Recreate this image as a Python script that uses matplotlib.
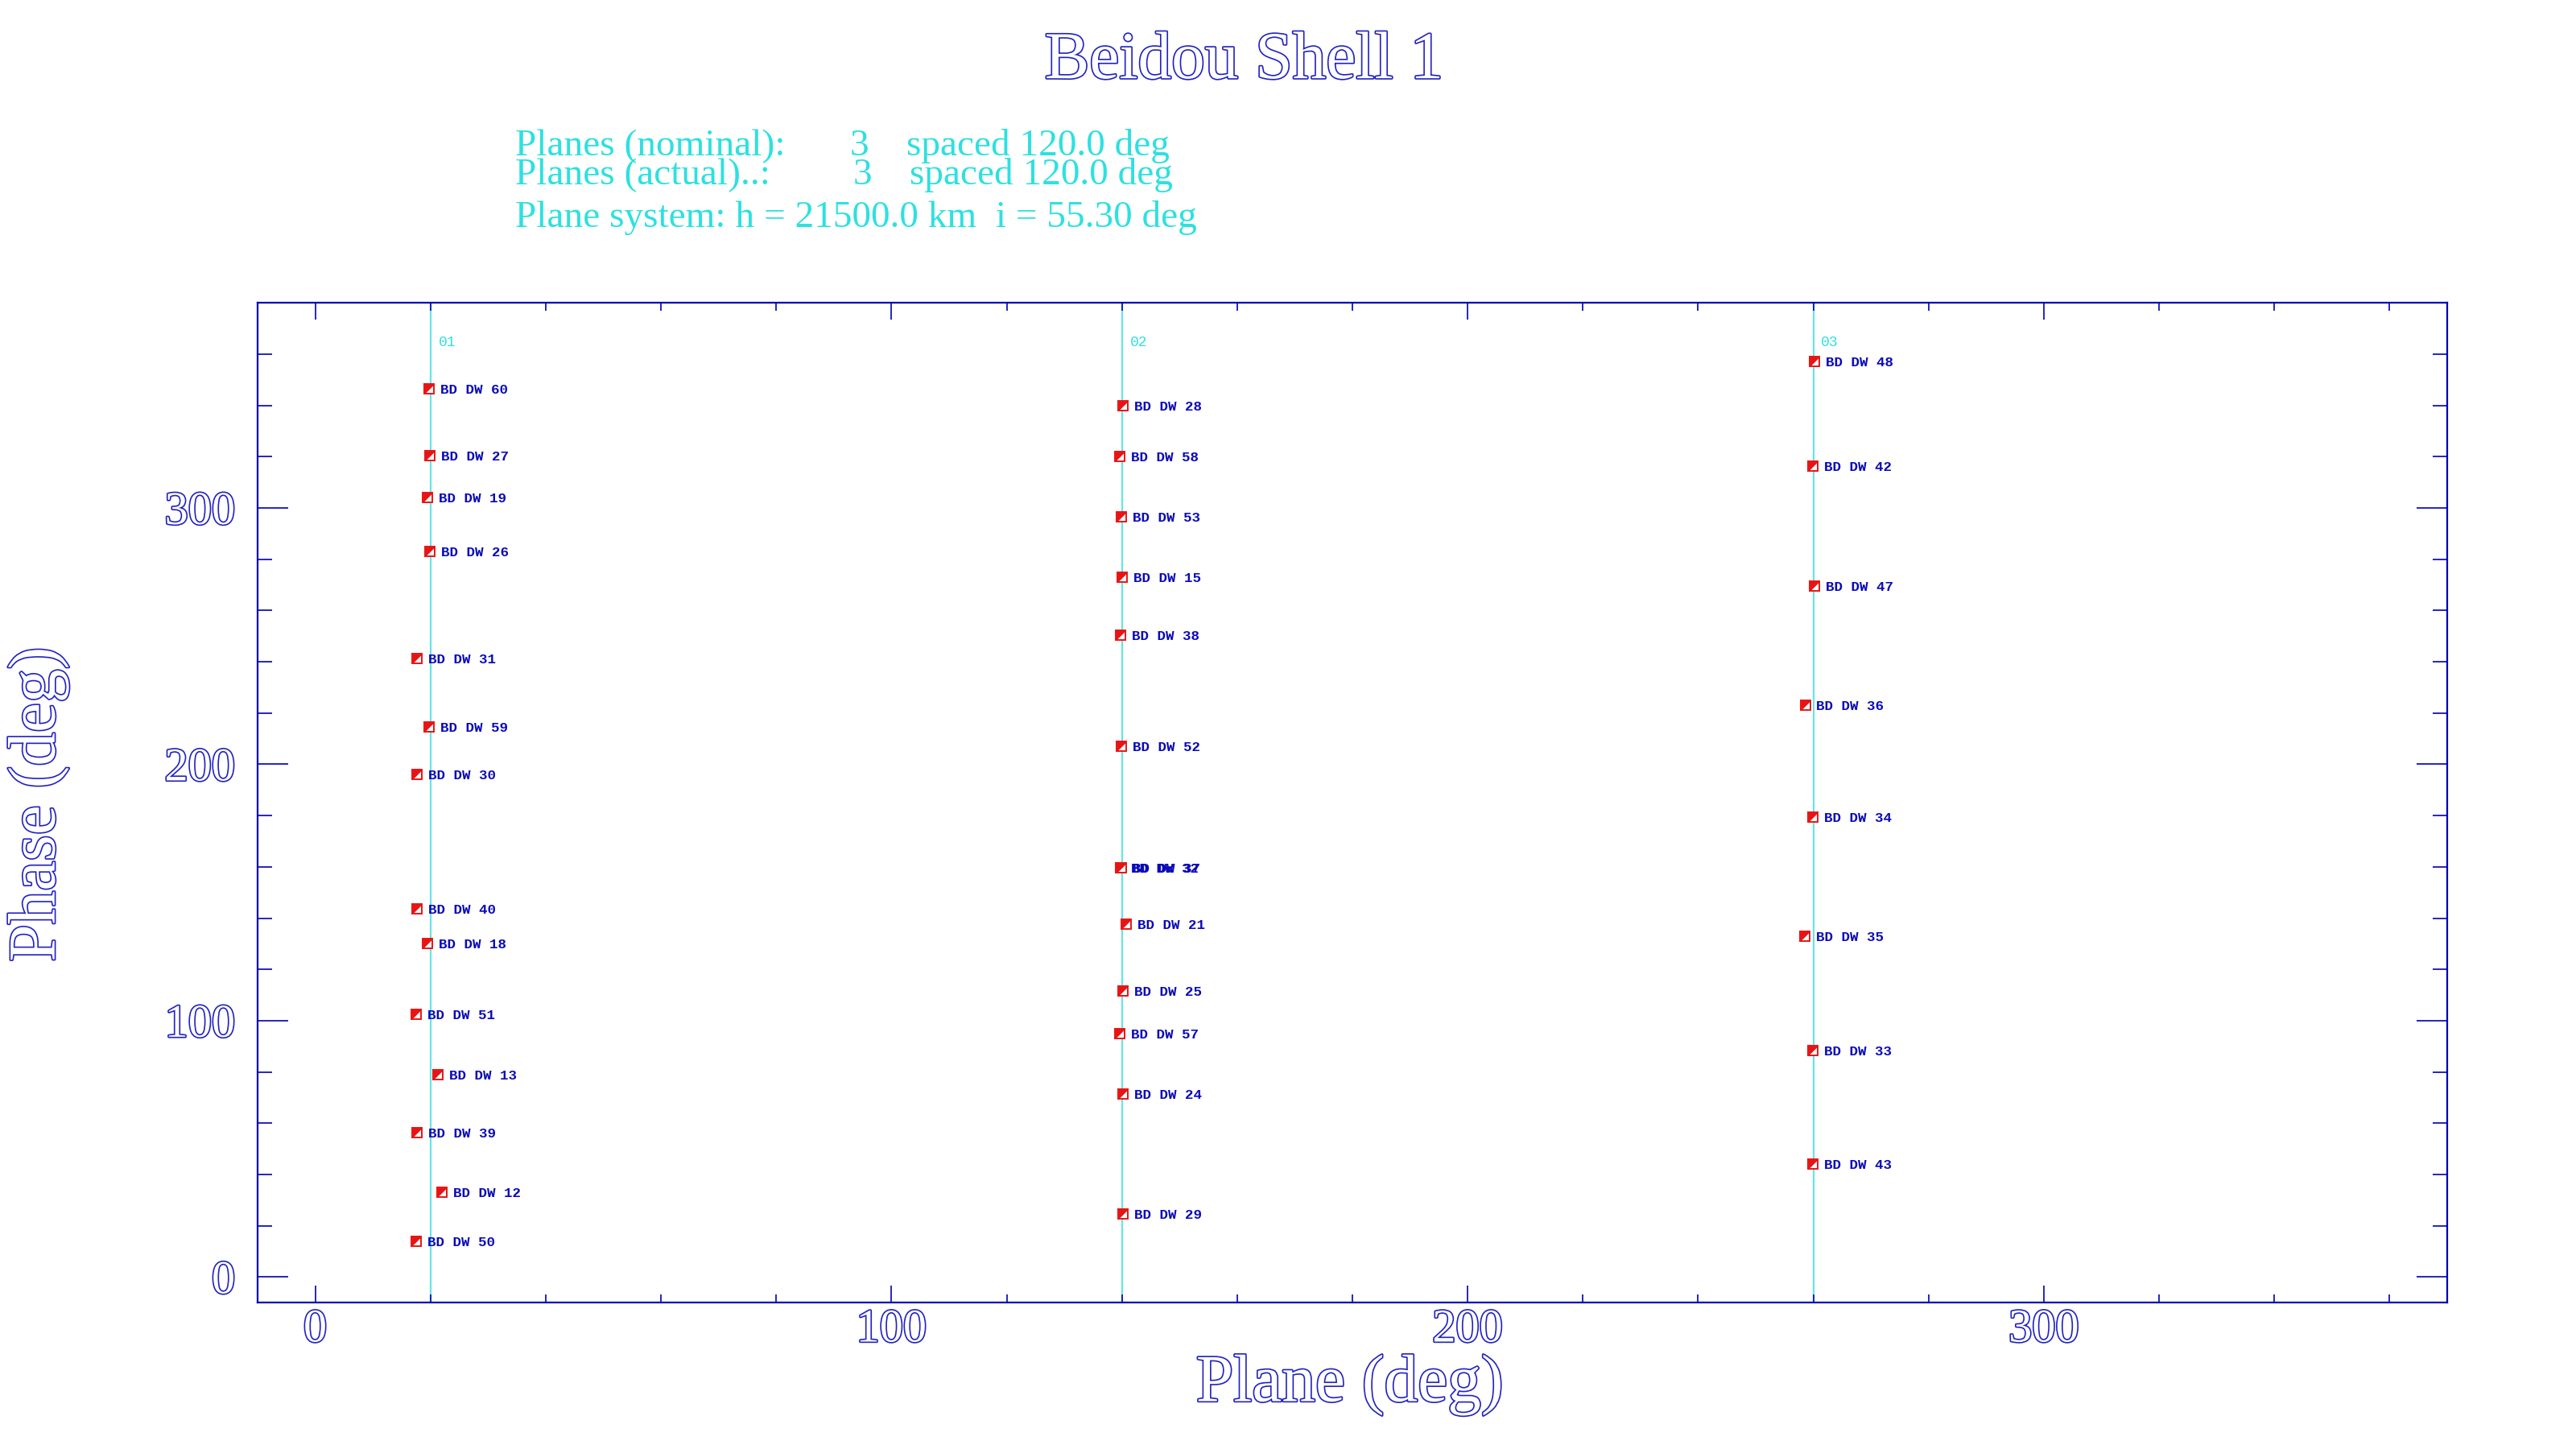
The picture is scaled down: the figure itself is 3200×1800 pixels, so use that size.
import matplotlib
matplotlib.use('Agg')
import matplotlib.pyplot as plt
import matplotlib.patheffects as pe
from matplotlib.ticker import MultipleLocator

# planes of the shell
plane_raan = [20.0, 140.0, 260.0]
plane_names = ['01', '02', '03']

# satellites: name, plane angle (deg), phase (deg)
sat_names = ['BD DW 60', 'BD DW 27', 'BD DW 19', 'BD DW 26', 'BD DW 31', 'BD DW 59', 'BD DW 30',
             'BD DW 40', 'BD DW 18', 'BD DW 51', 'BD DW 13', 'BD DW 39', 'BD DW 12', 'BD DW 50',
             'BD DW 28', 'BD DW 58', 'BD DW 53', 'BD DW 15', 'BD DW 38', 'BD DW 52', 'BD DW 32',
             'BD DW 37', 'BD DW 21', 'BD DW 25', 'BD DW 57', 'BD DW 24', 'BD DW 29',
             'BD DW 48', 'BD DW 42', 'BD DW 47', 'BD DW 36', 'BD DW 34', 'BD DW 35', 'BD DW 33',
             'BD DW 43']
sat_plane = [19.8, 19.9, 19.5, 19.9, 17.7, 19.8, 17.7,
             17.7, 19.5, 17.5, 21.3, 17.7, 22.0, 17.5,
             140.2, 139.6, 139.9, 140.0, 139.8, 139.9, 139.7,
             139.9, 140.7, 140.2, 139.6, 140.2, 140.2,
             260.2, 259.9, 260.2, 258.6, 259.9, 258.5, 259.9,
             259.9]
sat_phase = [346.6, 320.3, 304.0, 283.0, 241.3, 214.5, 196.2,
             143.6, 130.0, 102.6, 79.0, 56.4, 33.1, 13.8,
             339.8, 320.0, 296.6, 273.0, 250.3, 207.2, 159.7,
             159.7, 137.8, 111.5, 94.9, 71.4, 24.6,
             357.1, 316.3, 269.6, 223.0, 179.4, 132.9, 88.4,
             44.0]

x_major = [0, 100, 200, 300]
y_major = [0, 100, 200, 300]

FRAME = '#0000b4'
TEXT = '#2222c0'
CYAN = '#2ee0e0'
LABEL = '#0a0ab8'
RED = '#e81414'

outline = [pe.withStroke(linewidth=1.2, foreground=TEXT)]
serif = 'Liberation Serif'

fig = plt.figure(figsize=(16, 9), dpi=200)
ax = fig.add_axes([0.1, 0.101, 0.85, 0.69])

ax.set_xlim(-10, 370)
ax.set_ylim(-10, 380)

for raan, name in zip(plane_raan, plane_names):
    ax.axvline(raan, color='#66e4e4', lw=0.8, zorder=1)
    ax.annotate(name, (raan, 364.5), xytext=(3.5, 0), textcoords='offset points',
                color=CYAN, fontsize=6.5, family='Liberation Mono', va='center', ha='left')

# half filled square markers (white square, red upper-left triangle)
tri = [(-1, 1), (1, 1), (-1, -1)]
ax.plot(sat_plane, sat_phase, ls='none', marker='s', ms=4, mfc='white', mec=RED, mew=0.7, zorder=3)
ax.plot(sat_plane, sat_phase, ls='none', marker=tri, ms=4, mfc=RED, mec=RED, mew=0.3, zorder=4)

for name, x, y in zip(sat_names, sat_plane, sat_phase):
    ax.annotate(name, (x, y), xytext=(5, 0), textcoords='offset points',
                color=LABEL, fontsize=6.3, family='Liberation Mono', fontweight='bold',
                va='center_baseline', ha='left', zorder=5)

ax.xaxis.set_minor_locator(MultipleLocator(20))
ax.yaxis.set_minor_locator(MultipleLocator(20))
ax.set_xticks(x_major)
ax.set_yticks(y_major)
ax.set_xticklabels([str(v) for v in x_major])
ax.set_yticklabels([str(v) for v in y_major])

ax.tick_params(axis='both', which='both', direction='in', top=True, right=True,
               color=FRAME, width=0.6)
ax.tick_params(axis='x', which='major', length=7.6, pad=3)
ax.tick_params(axis='x', which='minor', length=3.6)
ax.tick_params(axis='y', which='major', length=13.7, pad=10)
ax.tick_params(axis='y', which='minor', length=6.5)

for lab in ax.get_xticklabels() + ax.get_yticklabels():
    lab.set_family(serif)
    lab.set_fontsize(21)
    lab.set_color('white')
    lab.set_path_effects(outline)

for sp in ax.spines.values():
    sp.set_color(FRAME)
    sp.set_linewidth(0.8)

# title, axis labels
fig.text(0.483, 0.957, 'Beidou Shell 1', family=serif, fontsize=30, color='white',
         ha='center', va='center', path_effects=outline)
fig.text(0.524, 0.044, 'Plane (deg)', family=serif, fontsize=30, color='white',
         ha='center', va='center', path_effects=outline)
fig.text(0.015, 0.445, 'Phase (deg)', family=serif, fontsize=30, color='white',
         ha='center', va='center', rotation=90, path_effects=outline)

# header info
fig.text(0.2, 0.899, 'Planes (nominal):', family=serif, fontsize=17, color=CYAN, va='center')
fig.text(0.330, 0.899, '3', family=serif, fontsize=17, color=CYAN, va='center')
fig.text(0.352, 0.899, 'spaced 120.0 deg', family=serif, fontsize=17, color=CYAN, va='center')
fig.text(0.2, 0.879, 'Planes (actual)..:', family=serif, fontsize=17, color=CYAN, va='center')
fig.text(0.331, 0.879, '3', family=serif, fontsize=17, color=CYAN, va='center')
fig.text(0.353, 0.879, 'spaced 120.0 deg', family=serif, fontsize=17, color=CYAN, va='center')
fig.text(0.2, 0.850, 'Plane system: h = 21500.0 km  i = 55.30 deg', family=serif, fontsize=17,
         color=CYAN, va='center')

fig.savefig('out.png', dpi=200, facecolor='white')
